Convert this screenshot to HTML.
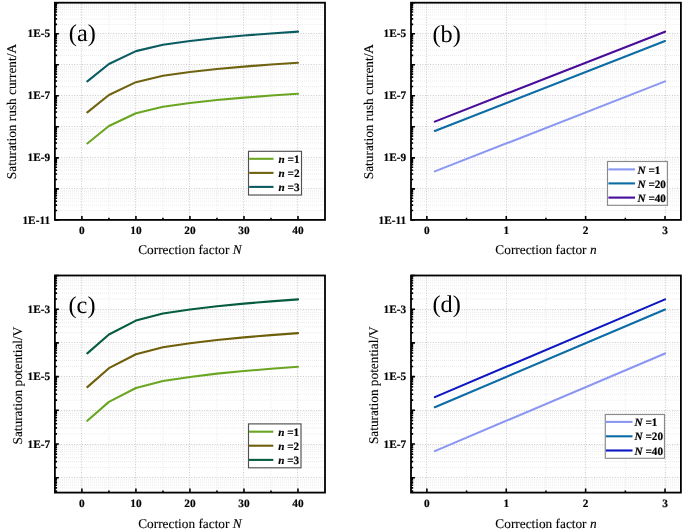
<!DOCTYPE html>
<html><head><meta charset="utf-8"><style>
html,body{margin:0;padding:0;background:#fff;}
svg{display:block;will-change:transform;}
text{font-family:"Liberation Serif",serif;fill:#000;text-rendering:geometricPrecision;opacity:0.999;}
.tx{opacity:0.999;}
.tk{font-size:11.3px;font-weight:bold;stroke:#000;stroke-width:0.18px;}
.ti{font-size:13.3px;fill:#000;stroke:#000;stroke-width:0.12px;}
.pl{font-size:24.3px;}
.lg{font-size:11.2px;font-weight:bold;stroke:#000;stroke-width:0.2px;}
.gM{stroke:#cbcbcb;stroke-width:1;stroke-dasharray:1 1.6;}
.gm{stroke:#ececec;stroke-width:1;stroke-dasharray:1 1;}
</style></head><body>
<svg width="685" height="531" viewBox="0 0 685 531">
<line x1="108.92" y1="4" x2="108.92" y2="219.9" class="gm"/>
<line x1="162.94" y1="4" x2="162.94" y2="219.9" class="gm"/>
<line x1="216.96" y1="4" x2="216.96" y2="219.9" class="gm"/>
<line x1="270.98" y1="4" x2="270.98" y2="219.9" class="gm"/>
<line x1="56" y1="210.56" x2="325" y2="210.56" class="gm"/>
<line x1="56" y1="205.1" x2="325" y2="205.1" class="gm"/>
<line x1="56" y1="201.22" x2="325" y2="201.22" class="gm"/>
<line x1="56" y1="198.21" x2="325" y2="198.21" class="gm"/>
<line x1="56" y1="195.76" x2="325" y2="195.76" class="gm"/>
<line x1="56" y1="193.68" x2="325" y2="193.68" class="gm"/>
<line x1="56" y1="191.88" x2="325" y2="191.88" class="gm"/>
<line x1="56" y1="190.29" x2="325" y2="190.29" class="gm"/>
<line x1="56" y1="179.53" x2="325" y2="179.53" class="gm"/>
<line x1="56" y1="174.07" x2="325" y2="174.07" class="gm"/>
<line x1="56" y1="170.19" x2="325" y2="170.19" class="gm"/>
<line x1="56" y1="167.18" x2="325" y2="167.18" class="gm"/>
<line x1="56" y1="164.73" x2="325" y2="164.73" class="gm"/>
<line x1="56" y1="162.65" x2="325" y2="162.65" class="gm"/>
<line x1="56" y1="160.85" x2="325" y2="160.85" class="gm"/>
<line x1="56" y1="159.26" x2="325" y2="159.26" class="gm"/>
<line x1="56" y1="148.5" x2="325" y2="148.5" class="gm"/>
<line x1="56" y1="143.04" x2="325" y2="143.04" class="gm"/>
<line x1="56" y1="139.16" x2="325" y2="139.16" class="gm"/>
<line x1="56" y1="136.15" x2="325" y2="136.15" class="gm"/>
<line x1="56" y1="133.7" x2="325" y2="133.7" class="gm"/>
<line x1="56" y1="131.62" x2="325" y2="131.62" class="gm"/>
<line x1="56" y1="129.82" x2="325" y2="129.82" class="gm"/>
<line x1="56" y1="128.23" x2="325" y2="128.23" class="gm"/>
<line x1="56" y1="117.47" x2="325" y2="117.47" class="gm"/>
<line x1="56" y1="112.01" x2="325" y2="112.01" class="gm"/>
<line x1="56" y1="108.13" x2="325" y2="108.13" class="gm"/>
<line x1="56" y1="105.13" x2="325" y2="105.13" class="gm"/>
<line x1="56" y1="102.67" x2="325" y2="102.67" class="gm"/>
<line x1="56" y1="100.59" x2="325" y2="100.59" class="gm"/>
<line x1="56" y1="98.79" x2="325" y2="98.79" class="gm"/>
<line x1="56" y1="97.21" x2="325" y2="97.21" class="gm"/>
<line x1="56" y1="86.45" x2="325" y2="86.45" class="gm"/>
<line x1="56" y1="80.98" x2="325" y2="80.98" class="gm"/>
<line x1="56" y1="77.1" x2="325" y2="77.1" class="gm"/>
<line x1="56" y1="74.1" x2="325" y2="74.1" class="gm"/>
<line x1="56" y1="71.64" x2="325" y2="71.64" class="gm"/>
<line x1="56" y1="69.56" x2="325" y2="69.56" class="gm"/>
<line x1="56" y1="67.76" x2="325" y2="67.76" class="gm"/>
<line x1="56" y1="66.18" x2="325" y2="66.18" class="gm"/>
<line x1="56" y1="55.42" x2="325" y2="55.42" class="gm"/>
<line x1="56" y1="49.95" x2="325" y2="49.95" class="gm"/>
<line x1="56" y1="46.08" x2="325" y2="46.08" class="gm"/>
<line x1="56" y1="43.07" x2="325" y2="43.07" class="gm"/>
<line x1="56" y1="40.61" x2="325" y2="40.61" class="gm"/>
<line x1="56" y1="38.53" x2="325" y2="38.53" class="gm"/>
<line x1="56" y1="36.74" x2="325" y2="36.74" class="gm"/>
<line x1="56" y1="35.15" x2="325" y2="35.15" class="gm"/>
<line x1="56" y1="24.39" x2="325" y2="24.39" class="gm"/>
<line x1="56" y1="18.92" x2="325" y2="18.92" class="gm"/>
<line x1="56" y1="15.05" x2="325" y2="15.05" class="gm"/>
<line x1="56" y1="12.04" x2="325" y2="12.04" class="gm"/>
<line x1="56" y1="9.58" x2="325" y2="9.58" class="gm"/>
<line x1="56" y1="7.51" x2="325" y2="7.51" class="gm"/>
<line x1="56" y1="5.71" x2="325" y2="5.71" class="gm"/>
<line x1="56" y1="4.12" x2="325" y2="4.12" class="gm"/>
<line x1="81.5" y1="4" x2="81.5" y2="219.9" class="gM"/>
<line x1="135.5" y1="4" x2="135.5" y2="219.9" class="gM"/>
<line x1="189.5" y1="4" x2="189.5" y2="219.9" class="gM"/>
<line x1="243.5" y1="4" x2="243.5" y2="219.9" class="gM"/>
<line x1="297.5" y1="4" x2="297.5" y2="219.9" class="gM"/>
<line x1="56" y1="188.5" x2="325" y2="188.5" class="gM"/>
<line x1="56" y1="157.5" x2="325" y2="157.5" class="gM"/>
<line x1="56" y1="126.5" x2="325" y2="126.5" class="gM"/>
<line x1="56" y1="95.5" x2="325" y2="95.5" class="gM"/>
<line x1="56" y1="64.5" x2="325" y2="64.5" class="gM"/>
<line x1="56" y1="33.5" x2="325" y2="33.5" class="gM"/>
<polyline points="87.31,143.45 108.92,126.01 135.93,113.19 162.94,106.74 189.95,103.05 216.96,100.01 243.97,97.62 270.98,95.57 297.99,93.71" fill="none" stroke="#6aa622" stroke-width="2.1" stroke-linejoin="round" stroke-linecap="round"/>
<polyline points="87.31,112.42 108.92,94.98 135.93,82.16 162.94,75.71 189.95,72.02 216.96,68.98 243.97,66.59 270.98,64.54 297.99,62.68" fill="none" stroke="#706310" stroke-width="2.1" stroke-linejoin="round" stroke-linecap="round"/>
<polyline points="87.31,81.39 108.92,63.95 135.93,51.14 162.94,44.68 189.95,40.99 216.96,37.95 243.97,35.56 270.98,33.51 297.99,31.65" fill="none" stroke="#0b5c60" stroke-width="2.1" stroke-linejoin="round" stroke-linecap="round"/>
<path d="M81.91 219.9V215.9M135.93 219.9V215.9M189.95 219.9V215.9M243.97 219.9V215.9M297.99 219.9V215.9M108.92 219.9V217.7M162.94 219.9V217.7M216.96 219.9V217.7M270.98 219.9V217.7M54.9 219.9H58.9M54.9 188.87H58.9M54.9 157.84H58.9M54.9 126.81H58.9M54.9 95.79H58.9M54.9 64.76H58.9M54.9 33.73H58.9M54.9 2.7H58.9M54.9 210.56H57.1M54.9 205.1H57.1M54.9 201.22H57.1M54.9 198.21H57.1M54.9 195.76H57.1M54.9 193.68H57.1M54.9 191.88H57.1M54.9 190.29H57.1M54.9 179.53H57.1M54.9 174.07H57.1M54.9 170.19H57.1M54.9 167.18H57.1M54.9 164.73H57.1M54.9 162.65H57.1M54.9 160.85H57.1M54.9 159.26H57.1M54.9 148.5H57.1M54.9 143.04H57.1M54.9 139.16H57.1M54.9 136.15H57.1M54.9 133.7H57.1M54.9 131.62H57.1M54.9 129.82H57.1M54.9 128.23H57.1M54.9 117.47H57.1M54.9 112.01H57.1M54.9 108.13H57.1M54.9 105.13H57.1M54.9 102.67H57.1M54.9 100.59H57.1M54.9 98.79H57.1M54.9 97.21H57.1M54.9 86.45H57.1M54.9 80.98H57.1M54.9 77.1H57.1M54.9 74.1H57.1M54.9 71.64H57.1M54.9 69.56H57.1M54.9 67.76H57.1M54.9 66.18H57.1M54.9 55.42H57.1M54.9 49.95H57.1M54.9 46.08H57.1M54.9 43.07H57.1M54.9 40.61H57.1M54.9 38.53H57.1M54.9 36.74H57.1M54.9 35.15H57.1M54.9 24.39H57.1M54.9 18.92H57.1M54.9 15.05H57.1M54.9 12.04H57.1M54.9 9.58H57.1M54.9 7.51H57.1M54.9 5.71H57.1M54.9 4.12H57.1" stroke="#000" stroke-width="1.6" fill="none"/>
<rect x="54.9" y="2.7" width="270.1" height="217.2" fill="none" stroke="#000" stroke-width="1.8"/>
<text x="81.91" y="233.9" class="tk" text-anchor="middle">0</text>
<text x="135.93" y="233.9" class="tk" text-anchor="middle">10</text>
<text x="189.95" y="233.9" class="tk" text-anchor="middle">20</text>
<text x="243.97" y="233.9" class="tk" text-anchor="middle">30</text>
<text x="297.99" y="233.9" class="tk" text-anchor="middle">40</text>
<text x="50.1" y="37.33" class="tk" text-anchor="end">1E-5</text>
<text x="50.1" y="99.39" class="tk" text-anchor="end">1E-7</text>
<text x="50.1" y="161.44" class="tk" text-anchor="end">1E-9</text>
<text x="50.1" y="223.5" class="tk" text-anchor="end">1E-11</text>
<text x="189.95" y="254.3" class="ti" text-anchor="middle">Correction factor <tspan font-style="italic">N</tspan></text>
<text transform="translate(16.4 111.57) rotate(-90)" class="ti" text-anchor="middle">Saturation rush current/A</text>
<text x="68.8" y="41.35" class="pl">(a)</text>
<rect x="248.5" y="151.3" width="53" height="43.7" fill="#fff" stroke="#505050" stroke-width="1.15"/>
<line x1="249.2" y1="158.8" x2="273.5" y2="158.8" stroke="#6aa622" stroke-width="2.1"/>
<text x="278.5" y="162.9" class="lg"><tspan font-style="italic">n</tspan> =1</text>
<line x1="249.2" y1="172.9" x2="273.5" y2="172.9" stroke="#706310" stroke-width="2.1"/>
<text x="278.5" y="177" class="lg"><tspan font-style="italic">n</tspan> =2</text>
<line x1="249.2" y1="186.9" x2="273.5" y2="186.9" stroke="#0b5c60" stroke-width="2.1"/>
<text x="278.5" y="191" class="lg"><tspan font-style="italic">n</tspan> =3</text>
<line x1="466.57" y1="4" x2="466.57" y2="219.9" class="gm"/>
<line x1="545.95" y1="4" x2="545.95" y2="219.9" class="gm"/>
<line x1="625.33" y1="4" x2="625.33" y2="219.9" class="gm"/>
<line x1="412" y1="210.56" x2="680.9" y2="210.56" class="gm"/>
<line x1="412" y1="205.1" x2="680.9" y2="205.1" class="gm"/>
<line x1="412" y1="201.22" x2="680.9" y2="201.22" class="gm"/>
<line x1="412" y1="198.21" x2="680.9" y2="198.21" class="gm"/>
<line x1="412" y1="195.76" x2="680.9" y2="195.76" class="gm"/>
<line x1="412" y1="193.68" x2="680.9" y2="193.68" class="gm"/>
<line x1="412" y1="191.88" x2="680.9" y2="191.88" class="gm"/>
<line x1="412" y1="190.29" x2="680.9" y2="190.29" class="gm"/>
<line x1="412" y1="179.53" x2="680.9" y2="179.53" class="gm"/>
<line x1="412" y1="174.07" x2="680.9" y2="174.07" class="gm"/>
<line x1="412" y1="170.19" x2="680.9" y2="170.19" class="gm"/>
<line x1="412" y1="167.18" x2="680.9" y2="167.18" class="gm"/>
<line x1="412" y1="164.73" x2="680.9" y2="164.73" class="gm"/>
<line x1="412" y1="162.65" x2="680.9" y2="162.65" class="gm"/>
<line x1="412" y1="160.85" x2="680.9" y2="160.85" class="gm"/>
<line x1="412" y1="159.26" x2="680.9" y2="159.26" class="gm"/>
<line x1="412" y1="148.5" x2="680.9" y2="148.5" class="gm"/>
<line x1="412" y1="143.04" x2="680.9" y2="143.04" class="gm"/>
<line x1="412" y1="139.16" x2="680.9" y2="139.16" class="gm"/>
<line x1="412" y1="136.15" x2="680.9" y2="136.15" class="gm"/>
<line x1="412" y1="133.7" x2="680.9" y2="133.7" class="gm"/>
<line x1="412" y1="131.62" x2="680.9" y2="131.62" class="gm"/>
<line x1="412" y1="129.82" x2="680.9" y2="129.82" class="gm"/>
<line x1="412" y1="128.23" x2="680.9" y2="128.23" class="gm"/>
<line x1="412" y1="117.47" x2="680.9" y2="117.47" class="gm"/>
<line x1="412" y1="112.01" x2="680.9" y2="112.01" class="gm"/>
<line x1="412" y1="108.13" x2="680.9" y2="108.13" class="gm"/>
<line x1="412" y1="105.13" x2="680.9" y2="105.13" class="gm"/>
<line x1="412" y1="102.67" x2="680.9" y2="102.67" class="gm"/>
<line x1="412" y1="100.59" x2="680.9" y2="100.59" class="gm"/>
<line x1="412" y1="98.79" x2="680.9" y2="98.79" class="gm"/>
<line x1="412" y1="97.21" x2="680.9" y2="97.21" class="gm"/>
<line x1="412" y1="86.45" x2="680.9" y2="86.45" class="gm"/>
<line x1="412" y1="80.98" x2="680.9" y2="80.98" class="gm"/>
<line x1="412" y1="77.1" x2="680.9" y2="77.1" class="gm"/>
<line x1="412" y1="74.1" x2="680.9" y2="74.1" class="gm"/>
<line x1="412" y1="71.64" x2="680.9" y2="71.64" class="gm"/>
<line x1="412" y1="69.56" x2="680.9" y2="69.56" class="gm"/>
<line x1="412" y1="67.76" x2="680.9" y2="67.76" class="gm"/>
<line x1="412" y1="66.18" x2="680.9" y2="66.18" class="gm"/>
<line x1="412" y1="55.42" x2="680.9" y2="55.42" class="gm"/>
<line x1="412" y1="49.95" x2="680.9" y2="49.95" class="gm"/>
<line x1="412" y1="46.08" x2="680.9" y2="46.08" class="gm"/>
<line x1="412" y1="43.07" x2="680.9" y2="43.07" class="gm"/>
<line x1="412" y1="40.61" x2="680.9" y2="40.61" class="gm"/>
<line x1="412" y1="38.53" x2="680.9" y2="38.53" class="gm"/>
<line x1="412" y1="36.74" x2="680.9" y2="36.74" class="gm"/>
<line x1="412" y1="35.15" x2="680.9" y2="35.15" class="gm"/>
<line x1="412" y1="24.39" x2="680.9" y2="24.39" class="gm"/>
<line x1="412" y1="18.92" x2="680.9" y2="18.92" class="gm"/>
<line x1="412" y1="15.05" x2="680.9" y2="15.05" class="gm"/>
<line x1="412" y1="12.04" x2="680.9" y2="12.04" class="gm"/>
<line x1="412" y1="9.58" x2="680.9" y2="9.58" class="gm"/>
<line x1="412" y1="7.51" x2="680.9" y2="7.51" class="gm"/>
<line x1="412" y1="5.71" x2="680.9" y2="5.71" class="gm"/>
<line x1="412" y1="4.12" x2="680.9" y2="4.12" class="gm"/>
<line x1="426.5" y1="4" x2="426.5" y2="219.9" class="gM"/>
<line x1="506.5" y1="4" x2="506.5" y2="219.9" class="gM"/>
<line x1="585.5" y1="4" x2="585.5" y2="219.9" class="gM"/>
<line x1="665.5" y1="4" x2="665.5" y2="219.9" class="gM"/>
<line x1="412" y1="188.5" x2="680.9" y2="188.5" class="gM"/>
<line x1="412" y1="157.5" x2="680.9" y2="157.5" class="gM"/>
<line x1="412" y1="126.5" x2="680.9" y2="126.5" class="gM"/>
<line x1="412" y1="95.5" x2="680.9" y2="95.5" class="gM"/>
<line x1="412" y1="64.5" x2="680.9" y2="64.5" class="gM"/>
<line x1="412" y1="33.5" x2="680.9" y2="33.5" class="gM"/>
<polyline points="434.81,171.37 665.02,81.39" fill="none" stroke="#8a98f2" stroke-width="2.1" stroke-linejoin="round" stroke-linecap="round"/>
<polyline points="434.81,130.97 665.02,40.99" fill="none" stroke="#0c6ca6" stroke-width="2.1" stroke-linejoin="round" stroke-linecap="round"/>
<polyline points="434.81,121.63 665.02,31.65" fill="none" stroke="#480c9a" stroke-width="2.1" stroke-linejoin="round" stroke-linecap="round"/>
<path d="M426.88 219.9V215.9M506.26 219.9V215.9M585.64 219.9V215.9M665.02 219.9V215.9M466.57 219.9V217.7M545.95 219.9V217.7M625.33 219.9V217.7M411 219.9H415M411 188.87H415M411 157.84H415M411 126.81H415M411 95.79H415M411 64.76H415M411 33.73H415M411 2.7H415M411 210.56H413.2M411 205.1H413.2M411 201.22H413.2M411 198.21H413.2M411 195.76H413.2M411 193.68H413.2M411 191.88H413.2M411 190.29H413.2M411 179.53H413.2M411 174.07H413.2M411 170.19H413.2M411 167.18H413.2M411 164.73H413.2M411 162.65H413.2M411 160.85H413.2M411 159.26H413.2M411 148.5H413.2M411 143.04H413.2M411 139.16H413.2M411 136.15H413.2M411 133.7H413.2M411 131.62H413.2M411 129.82H413.2M411 128.23H413.2M411 117.47H413.2M411 112.01H413.2M411 108.13H413.2M411 105.13H413.2M411 102.67H413.2M411 100.59H413.2M411 98.79H413.2M411 97.21H413.2M411 86.45H413.2M411 80.98H413.2M411 77.1H413.2M411 74.1H413.2M411 71.64H413.2M411 69.56H413.2M411 67.76H413.2M411 66.18H413.2M411 55.42H413.2M411 49.95H413.2M411 46.08H413.2M411 43.07H413.2M411 40.61H413.2M411 38.53H413.2M411 36.74H413.2M411 35.15H413.2M411 24.39H413.2M411 18.92H413.2M411 15.05H413.2M411 12.04H413.2M411 9.58H413.2M411 7.51H413.2M411 5.71H413.2M411 4.12H413.2" stroke="#000" stroke-width="1.6" fill="none"/>
<rect x="411" y="2.7" width="269.9" height="217.2" fill="none" stroke="#000" stroke-width="1.8"/>
<text x="426.88" y="233.9" class="tk" text-anchor="middle">0</text>
<text x="506.26" y="233.9" class="tk" text-anchor="middle">1</text>
<text x="585.64" y="233.9" class="tk" text-anchor="middle">2</text>
<text x="665.02" y="233.9" class="tk" text-anchor="middle">3</text>
<text x="406.2" y="37.33" class="tk" text-anchor="end">1E-5</text>
<text x="406.2" y="99.39" class="tk" text-anchor="end">1E-7</text>
<text x="406.2" y="161.44" class="tk" text-anchor="end">1E-9</text>
<text x="406.2" y="223.5" class="tk" text-anchor="end">1E-11</text>
<text x="545.95" y="254.3" class="ti" text-anchor="middle">Correction factor <tspan font-style="italic">n</tspan></text>
<text transform="translate(372.9 111.6) rotate(-90)" class="ti" text-anchor="middle">Saturation rush current/A</text>
<text x="432.5" y="41.55" class="pl">(b)</text>
<rect x="607.5" y="161.5" width="59.9" height="43.8" fill="#fff" stroke="#8a8a8a" stroke-width="1.15"/>
<line x1="608.4" y1="169.4" x2="635" y2="169.4" stroke="#8a98f2" stroke-width="2.1"/>
<text x="637.5" y="173.5" class="lg"><tspan font-style="italic">N</tspan> =1</text>
<line x1="608.4" y1="183.4" x2="635" y2="183.4" stroke="#0c6ca6" stroke-width="2.1"/>
<text x="637.5" y="187.5" class="lg"><tspan font-style="italic">N</tspan> =20</text>
<line x1="608.4" y1="197.6" x2="635" y2="197.6" stroke="#480c9a" stroke-width="2.1"/>
<text x="637.5" y="201.7" class="lg"><tspan font-style="italic">N</tspan> =40</text>
<line x1="108.92" y1="277" x2="108.92" y2="492.6" class="gm"/>
<line x1="162.94" y1="277" x2="162.94" y2="492.6" class="gm"/>
<line x1="216.96" y1="277" x2="216.96" y2="492.6" class="gm"/>
<line x1="270.98" y1="277" x2="270.98" y2="492.6" class="gm"/>
<line x1="56" y1="491.11" x2="325" y2="491.11" class="gm"/>
<line x1="56" y1="487.84" x2="325" y2="487.84" class="gm"/>
<line x1="56" y1="485.18" x2="325" y2="485.18" class="gm"/>
<line x1="56" y1="482.92" x2="325" y2="482.92" class="gm"/>
<line x1="56" y1="480.97" x2="325" y2="480.97" class="gm"/>
<line x1="56" y1="479.24" x2="325" y2="479.24" class="gm"/>
<line x1="56" y1="467.56" x2="325" y2="467.56" class="gm"/>
<line x1="56" y1="461.62" x2="325" y2="461.62" class="gm"/>
<line x1="56" y1="457.41" x2="325" y2="457.41" class="gm"/>
<line x1="56" y1="454.14" x2="325" y2="454.14" class="gm"/>
<line x1="56" y1="451.48" x2="325" y2="451.48" class="gm"/>
<line x1="56" y1="449.22" x2="325" y2="449.22" class="gm"/>
<line x1="56" y1="447.27" x2="325" y2="447.27" class="gm"/>
<line x1="56" y1="445.54" x2="325" y2="445.54" class="gm"/>
<line x1="56" y1="433.86" x2="325" y2="433.86" class="gm"/>
<line x1="56" y1="427.92" x2="325" y2="427.92" class="gm"/>
<line x1="56" y1="423.71" x2="325" y2="423.71" class="gm"/>
<line x1="56" y1="420.44" x2="325" y2="420.44" class="gm"/>
<line x1="56" y1="417.78" x2="325" y2="417.78" class="gm"/>
<line x1="56" y1="415.52" x2="325" y2="415.52" class="gm"/>
<line x1="56" y1="413.57" x2="325" y2="413.57" class="gm"/>
<line x1="56" y1="411.84" x2="325" y2="411.84" class="gm"/>
<line x1="56" y1="400.16" x2="325" y2="400.16" class="gm"/>
<line x1="56" y1="394.22" x2="325" y2="394.22" class="gm"/>
<line x1="56" y1="390.01" x2="325" y2="390.01" class="gm"/>
<line x1="56" y1="386.74" x2="325" y2="386.74" class="gm"/>
<line x1="56" y1="384.08" x2="325" y2="384.08" class="gm"/>
<line x1="56" y1="381.82" x2="325" y2="381.82" class="gm"/>
<line x1="56" y1="379.87" x2="325" y2="379.87" class="gm"/>
<line x1="56" y1="378.14" x2="325" y2="378.14" class="gm"/>
<line x1="56" y1="366.46" x2="325" y2="366.46" class="gm"/>
<line x1="56" y1="360.52" x2="325" y2="360.52" class="gm"/>
<line x1="56" y1="356.31" x2="325" y2="356.31" class="gm"/>
<line x1="56" y1="353.04" x2="325" y2="353.04" class="gm"/>
<line x1="56" y1="350.38" x2="325" y2="350.38" class="gm"/>
<line x1="56" y1="348.12" x2="325" y2="348.12" class="gm"/>
<line x1="56" y1="346.17" x2="325" y2="346.17" class="gm"/>
<line x1="56" y1="344.44" x2="325" y2="344.44" class="gm"/>
<line x1="56" y1="332.76" x2="325" y2="332.76" class="gm"/>
<line x1="56" y1="326.82" x2="325" y2="326.82" class="gm"/>
<line x1="56" y1="322.61" x2="325" y2="322.61" class="gm"/>
<line x1="56" y1="319.34" x2="325" y2="319.34" class="gm"/>
<line x1="56" y1="316.68" x2="325" y2="316.68" class="gm"/>
<line x1="56" y1="314.42" x2="325" y2="314.42" class="gm"/>
<line x1="56" y1="312.47" x2="325" y2="312.47" class="gm"/>
<line x1="56" y1="310.74" x2="325" y2="310.74" class="gm"/>
<line x1="56" y1="299.06" x2="325" y2="299.06" class="gm"/>
<line x1="56" y1="293.12" x2="325" y2="293.12" class="gm"/>
<line x1="56" y1="288.91" x2="325" y2="288.91" class="gm"/>
<line x1="56" y1="285.64" x2="325" y2="285.64" class="gm"/>
<line x1="56" y1="282.98" x2="325" y2="282.98" class="gm"/>
<line x1="56" y1="280.72" x2="325" y2="280.72" class="gm"/>
<line x1="56" y1="278.77" x2="325" y2="278.77" class="gm"/>
<line x1="56" y1="277.04" x2="325" y2="277.04" class="gm"/>
<line x1="81.5" y1="277" x2="81.5" y2="492.6" class="gM"/>
<line x1="135.5" y1="277" x2="135.5" y2="492.6" class="gM"/>
<line x1="189.5" y1="277" x2="189.5" y2="492.6" class="gM"/>
<line x1="243.5" y1="277" x2="243.5" y2="492.6" class="gM"/>
<line x1="297.5" y1="277" x2="297.5" y2="492.6" class="gM"/>
<line x1="56" y1="477.5" x2="325" y2="477.5" class="gM"/>
<line x1="56" y1="444.5" x2="325" y2="444.5" class="gM"/>
<line x1="56" y1="410.5" x2="325" y2="410.5" class="gM"/>
<line x1="56" y1="376.5" x2="325" y2="376.5" class="gM"/>
<line x1="56" y1="342.5" x2="325" y2="342.5" class="gM"/>
<line x1="56" y1="309.5" x2="325" y2="309.5" class="gM"/>
<polyline points="87.31,420.81 108.92,401.88 135.93,387.96 162.94,380.95 189.95,376.94 216.96,373.63 243.97,371.04 270.98,368.82 297.99,366.79" fill="none" stroke="#6aa622" stroke-width="2.1" stroke-linejoin="round" stroke-linecap="round"/>
<polyline points="87.31,387.11 108.92,368.18 135.93,354.26 162.94,347.25 189.95,343.24 216.96,339.93 243.97,337.34 270.98,335.12 297.99,333.09" fill="none" stroke="#6f5e0a" stroke-width="2.1" stroke-linejoin="round" stroke-linecap="round"/>
<polyline points="87.31,353.41 108.92,334.48 135.93,320.56 162.94,313.55 189.95,309.54 216.96,306.23 243.97,303.64 270.98,301.42 297.99,299.39" fill="none" stroke="#065c40" stroke-width="2.1" stroke-linejoin="round" stroke-linecap="round"/>
<path d="M81.91 492.6V488.6M135.93 492.6V488.6M189.95 492.6V488.6M243.97 492.6V488.6M297.99 492.6V488.6M108.92 492.6V490.4M162.94 492.6V490.4M216.96 492.6V490.4M270.98 492.6V490.4M54.9 477.7H58.9M54.9 444H58.9M54.9 410.3H58.9M54.9 376.6H58.9M54.9 342.9H58.9M54.9 309.2H58.9M54.9 275.5H58.9M54.9 491.11H57.1M54.9 487.84H57.1M54.9 485.18H57.1M54.9 482.92H57.1M54.9 480.97H57.1M54.9 479.24H57.1M54.9 467.56H57.1M54.9 461.62H57.1M54.9 457.41H57.1M54.9 454.14H57.1M54.9 451.48H57.1M54.9 449.22H57.1M54.9 447.27H57.1M54.9 445.54H57.1M54.9 433.86H57.1M54.9 427.92H57.1M54.9 423.71H57.1M54.9 420.44H57.1M54.9 417.78H57.1M54.9 415.52H57.1M54.9 413.57H57.1M54.9 411.84H57.1M54.9 400.16H57.1M54.9 394.22H57.1M54.9 390.01H57.1M54.9 386.74H57.1M54.9 384.08H57.1M54.9 381.82H57.1M54.9 379.87H57.1M54.9 378.14H57.1M54.9 366.46H57.1M54.9 360.52H57.1M54.9 356.31H57.1M54.9 353.04H57.1M54.9 350.38H57.1M54.9 348.12H57.1M54.9 346.17H57.1M54.9 344.44H57.1M54.9 332.76H57.1M54.9 326.82H57.1M54.9 322.61H57.1M54.9 319.34H57.1M54.9 316.68H57.1M54.9 314.42H57.1M54.9 312.47H57.1M54.9 310.74H57.1M54.9 299.06H57.1M54.9 293.12H57.1M54.9 288.91H57.1M54.9 285.64H57.1M54.9 282.98H57.1M54.9 280.72H57.1M54.9 278.77H57.1M54.9 277.04H57.1" stroke="#000" stroke-width="1.6" fill="none"/>
<rect x="54.9" y="275.5" width="270.1" height="217.1" fill="none" stroke="#000" stroke-width="1.8"/>
<text x="81.91" y="506.6" class="tk" text-anchor="middle">0</text>
<text x="135.93" y="506.6" class="tk" text-anchor="middle">10</text>
<text x="189.95" y="506.6" class="tk" text-anchor="middle">20</text>
<text x="243.97" y="506.6" class="tk" text-anchor="middle">30</text>
<text x="297.99" y="506.6" class="tk" text-anchor="middle">40</text>
<text x="50.1" y="312.8" class="tk" text-anchor="end">1E-3</text>
<text x="50.1" y="380.2" class="tk" text-anchor="end">1E-5</text>
<text x="50.1" y="447.6" class="tk" text-anchor="end">1E-7</text>
<text x="189.95" y="527.6" class="ti" text-anchor="middle">Correction factor <tspan font-style="italic">N</tspan></text>
<text transform="translate(21.5 385.57) rotate(-90)" class="ti" text-anchor="middle">Saturation potential/V</text>
<text x="68.5" y="312.75" class="pl">(c)</text>
<rect x="248.5" y="423.9" width="52.5" height="43.9" fill="#fff" stroke="#505050" stroke-width="1.15"/>
<line x1="249" y1="431.7" x2="273.3" y2="431.7" stroke="#6aa622" stroke-width="2.1"/>
<text x="278.2" y="435.8" class="lg"><tspan font-style="italic">n</tspan> =1</text>
<line x1="249" y1="445.7" x2="273.3" y2="445.7" stroke="#6f5e0a" stroke-width="2.1"/>
<text x="278.2" y="449.8" class="lg"><tspan font-style="italic">n</tspan> =2</text>
<line x1="249" y1="459.9" x2="273.3" y2="459.9" stroke="#065c40" stroke-width="2.1"/>
<text x="278.2" y="464" class="lg"><tspan font-style="italic">n</tspan> =3</text>
<line x1="466.57" y1="277" x2="466.57" y2="492.6" class="gm"/>
<line x1="545.95" y1="277" x2="545.95" y2="492.6" class="gm"/>
<line x1="625.33" y1="277" x2="625.33" y2="492.6" class="gm"/>
<line x1="412" y1="491.11" x2="680.9" y2="491.11" class="gm"/>
<line x1="412" y1="487.84" x2="680.9" y2="487.84" class="gm"/>
<line x1="412" y1="485.18" x2="680.9" y2="485.18" class="gm"/>
<line x1="412" y1="482.92" x2="680.9" y2="482.92" class="gm"/>
<line x1="412" y1="480.97" x2="680.9" y2="480.97" class="gm"/>
<line x1="412" y1="479.24" x2="680.9" y2="479.24" class="gm"/>
<line x1="412" y1="467.56" x2="680.9" y2="467.56" class="gm"/>
<line x1="412" y1="461.62" x2="680.9" y2="461.62" class="gm"/>
<line x1="412" y1="457.41" x2="680.9" y2="457.41" class="gm"/>
<line x1="412" y1="454.14" x2="680.9" y2="454.14" class="gm"/>
<line x1="412" y1="451.48" x2="680.9" y2="451.48" class="gm"/>
<line x1="412" y1="449.22" x2="680.9" y2="449.22" class="gm"/>
<line x1="412" y1="447.27" x2="680.9" y2="447.27" class="gm"/>
<line x1="412" y1="445.54" x2="680.9" y2="445.54" class="gm"/>
<line x1="412" y1="433.86" x2="680.9" y2="433.86" class="gm"/>
<line x1="412" y1="427.92" x2="680.9" y2="427.92" class="gm"/>
<line x1="412" y1="423.71" x2="680.9" y2="423.71" class="gm"/>
<line x1="412" y1="420.44" x2="680.9" y2="420.44" class="gm"/>
<line x1="412" y1="417.78" x2="680.9" y2="417.78" class="gm"/>
<line x1="412" y1="415.52" x2="680.9" y2="415.52" class="gm"/>
<line x1="412" y1="413.57" x2="680.9" y2="413.57" class="gm"/>
<line x1="412" y1="411.84" x2="680.9" y2="411.84" class="gm"/>
<line x1="412" y1="400.16" x2="680.9" y2="400.16" class="gm"/>
<line x1="412" y1="394.22" x2="680.9" y2="394.22" class="gm"/>
<line x1="412" y1="390.01" x2="680.9" y2="390.01" class="gm"/>
<line x1="412" y1="386.74" x2="680.9" y2="386.74" class="gm"/>
<line x1="412" y1="384.08" x2="680.9" y2="384.08" class="gm"/>
<line x1="412" y1="381.82" x2="680.9" y2="381.82" class="gm"/>
<line x1="412" y1="379.87" x2="680.9" y2="379.87" class="gm"/>
<line x1="412" y1="378.14" x2="680.9" y2="378.14" class="gm"/>
<line x1="412" y1="366.46" x2="680.9" y2="366.46" class="gm"/>
<line x1="412" y1="360.52" x2="680.9" y2="360.52" class="gm"/>
<line x1="412" y1="356.31" x2="680.9" y2="356.31" class="gm"/>
<line x1="412" y1="353.04" x2="680.9" y2="353.04" class="gm"/>
<line x1="412" y1="350.38" x2="680.9" y2="350.38" class="gm"/>
<line x1="412" y1="348.12" x2="680.9" y2="348.12" class="gm"/>
<line x1="412" y1="346.17" x2="680.9" y2="346.17" class="gm"/>
<line x1="412" y1="344.44" x2="680.9" y2="344.44" class="gm"/>
<line x1="412" y1="332.76" x2="680.9" y2="332.76" class="gm"/>
<line x1="412" y1="326.82" x2="680.9" y2="326.82" class="gm"/>
<line x1="412" y1="322.61" x2="680.9" y2="322.61" class="gm"/>
<line x1="412" y1="319.34" x2="680.9" y2="319.34" class="gm"/>
<line x1="412" y1="316.68" x2="680.9" y2="316.68" class="gm"/>
<line x1="412" y1="314.42" x2="680.9" y2="314.42" class="gm"/>
<line x1="412" y1="312.47" x2="680.9" y2="312.47" class="gm"/>
<line x1="412" y1="310.74" x2="680.9" y2="310.74" class="gm"/>
<line x1="412" y1="299.06" x2="680.9" y2="299.06" class="gm"/>
<line x1="412" y1="293.12" x2="680.9" y2="293.12" class="gm"/>
<line x1="412" y1="288.91" x2="680.9" y2="288.91" class="gm"/>
<line x1="412" y1="285.64" x2="680.9" y2="285.64" class="gm"/>
<line x1="412" y1="282.98" x2="680.9" y2="282.98" class="gm"/>
<line x1="412" y1="280.72" x2="680.9" y2="280.72" class="gm"/>
<line x1="412" y1="278.77" x2="680.9" y2="278.77" class="gm"/>
<line x1="412" y1="277.04" x2="680.9" y2="277.04" class="gm"/>
<line x1="426.5" y1="277" x2="426.5" y2="492.6" class="gM"/>
<line x1="506.5" y1="277" x2="506.5" y2="492.6" class="gM"/>
<line x1="585.5" y1="277" x2="585.5" y2="492.6" class="gM"/>
<line x1="665.5" y1="277" x2="665.5" y2="492.6" class="gM"/>
<line x1="412" y1="477.5" x2="680.9" y2="477.5" class="gM"/>
<line x1="412" y1="444.5" x2="680.9" y2="444.5" class="gM"/>
<line x1="412" y1="410.5" x2="680.9" y2="410.5" class="gM"/>
<line x1="412" y1="376.5" x2="680.9" y2="376.5" class="gM"/>
<line x1="412" y1="342.5" x2="680.9" y2="342.5" class="gM"/>
<line x1="412" y1="309.5" x2="680.9" y2="309.5" class="gM"/>
<polyline points="434.81,451.14 665.02,353.41" fill="none" stroke="#8a96f2" stroke-width="2.1" stroke-linejoin="round" stroke-linecap="round"/>
<polyline points="434.81,407.27 665.02,309.54" fill="none" stroke="#0c6ca6" stroke-width="2.1" stroke-linejoin="round" stroke-linecap="round"/>
<polyline points="434.81,397.12 665.02,299.39" fill="none" stroke="#0c16c2" stroke-width="2.1" stroke-linejoin="round" stroke-linecap="round"/>
<path d="M426.88 492.6V488.6M506.26 492.6V488.6M585.64 492.6V488.6M665.02 492.6V488.6M466.57 492.6V490.4M545.95 492.6V490.4M625.33 492.6V490.4M411 477.7H415M411 444H415M411 410.3H415M411 376.6H415M411 342.9H415M411 309.2H415M411 275.5H415M411 491.11H413.2M411 487.84H413.2M411 485.18H413.2M411 482.92H413.2M411 480.97H413.2M411 479.24H413.2M411 467.56H413.2M411 461.62H413.2M411 457.41H413.2M411 454.14H413.2M411 451.48H413.2M411 449.22H413.2M411 447.27H413.2M411 445.54H413.2M411 433.86H413.2M411 427.92H413.2M411 423.71H413.2M411 420.44H413.2M411 417.78H413.2M411 415.52H413.2M411 413.57H413.2M411 411.84H413.2M411 400.16H413.2M411 394.22H413.2M411 390.01H413.2M411 386.74H413.2M411 384.08H413.2M411 381.82H413.2M411 379.87H413.2M411 378.14H413.2M411 366.46H413.2M411 360.52H413.2M411 356.31H413.2M411 353.04H413.2M411 350.38H413.2M411 348.12H413.2M411 346.17H413.2M411 344.44H413.2M411 332.76H413.2M411 326.82H413.2M411 322.61H413.2M411 319.34H413.2M411 316.68H413.2M411 314.42H413.2M411 312.47H413.2M411 310.74H413.2M411 299.06H413.2M411 293.12H413.2M411 288.91H413.2M411 285.64H413.2M411 282.98H413.2M411 280.72H413.2M411 278.77H413.2M411 277.04H413.2" stroke="#000" stroke-width="1.6" fill="none"/>
<rect x="411" y="275.5" width="269.9" height="217.1" fill="none" stroke="#000" stroke-width="1.8"/>
<text x="426.88" y="506.6" class="tk" text-anchor="middle">0</text>
<text x="506.26" y="506.6" class="tk" text-anchor="middle">1</text>
<text x="585.64" y="506.6" class="tk" text-anchor="middle">2</text>
<text x="665.02" y="506.6" class="tk" text-anchor="middle">3</text>
<text x="406.2" y="312.8" class="tk" text-anchor="end">1E-3</text>
<text x="406.2" y="380.2" class="tk" text-anchor="end">1E-5</text>
<text x="406.2" y="447.6" class="tk" text-anchor="end">1E-7</text>
<text x="545.95" y="527.6" class="ti" text-anchor="middle">Correction factor <tspan font-style="italic">n</tspan></text>
<text transform="translate(378.1 385.2) rotate(-90)" class="ti" text-anchor="middle">Saturation potential/V</text>
<text x="432.5" y="311.65" class="pl">(d)</text>
<rect x="605.3" y="414.5" width="59.2" height="43.8" fill="#fff" stroke="#8a8a8a" stroke-width="1.15"/>
<line x1="605.9" y1="421.9" x2="632.5" y2="421.9" stroke="#8a96f2" stroke-width="2.1"/>
<text x="634.6" y="426" class="lg"><tspan font-style="italic">N</tspan> =1</text>
<line x1="605.9" y1="436.3" x2="632.5" y2="436.3" stroke="#0c6ca6" stroke-width="2.1"/>
<text x="634.6" y="440.4" class="lg"><tspan font-style="italic">N</tspan> =20</text>
<line x1="605.9" y1="450.5" x2="632.5" y2="450.5" stroke="#0c16c2" stroke-width="2.1"/>
<text x="634.6" y="454.6" class="lg"><tspan font-style="italic">N</tspan> =40</text>
</svg>
</body></html>
